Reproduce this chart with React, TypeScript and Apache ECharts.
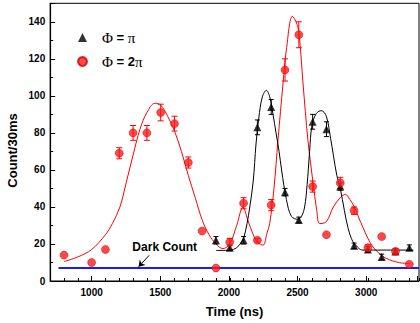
import { useEffect, useRef } from 'react';
import * as echarts from 'echarts';

// Φ = π (black triangles)
const timePi = [1900, 2000, 2100, 2200, 2300, 2400, 2500, 2600, 2700, 2800, 2900, 3000, 3100, 3200, 3300];
const countPi = [22, 18, 22, 83, 94, 48, 33, 86, 82, 51, 19, 17, 13, 16, 18];
const errPi = [2, 1.5, 2, 4, 4, 2, 1.5, 4, 4, 2, 1.5, 1.5, 1.5, 1.5, 1.5];

// Φ = 2π (red circles)
const time2Pi = [800, 1000, 1100, 1200, 1300, 1400, 1500, 1600, 1700, 1800, 1900, 2000, 2100, 2200, 2300, 2400, 2500, 2600, 2700, 2800, 2900, 3000, 3100, 3200, 3300];
const count2Pi = [14, 10, 17, 69, 80, 80, 91, 85, 64, 27, 7, 21, 42, 22, 41, 114, 133, 51, 25, 53, 38, 18, 24, 16, 9];
const err2Pi = [0, 0, 0, 3, 4, 4, 4.5, 4, 3, 0, 0, 2, 3, 1, 3, 6, 7, 3, 0, 3, 2, 1.5, 0, 1.5, 0];

// fitted curves
const fitPiX = [1900, 2000, 2050, 2080, 2100, 2125, 2145, 2170, 2190, 2210, 2236, 2265, 2289, 2313, 2335, 2357, 2375, 2410, 2446, 2494, 2520, 2542, 2560, 2578, 2595, 2627, 2663, 2699, 2730, 2750, 2775, 2800, 2830, 2855, 2880, 2904, 2964, 3330];
const fitPiY = [16.5, 16.6, 18, 20.5, 23, 31, 40, 54, 74, 88, 99.5, 103, 99.5, 90, 80, 70, 60, 44, 35, 33.3, 35, 40, 52, 70, 84, 90.5, 92, 89, 77, 68, 57, 50, 38, 29, 23, 20, 16.7, 16.7];

const fit2PiX = [800, 900, 1000, 1100, 1150, 1205, 1250, 1300, 1350, 1400, 1458, 1500, 1550, 1600, 1650, 1700, 1750, 1800, 1850, 1900, 1950, 2000, 2050, 2096, 2130, 2170, 2200, 2241, 2270, 2289, 2320, 2349, 2386, 2410, 2453, 2480, 2501, 2530, 2566, 2603, 2630, 2651, 2699, 2750, 2800, 2837, 2870, 2902, 2935, 2964, 3000, 3036, 3080, 3133, 3229, 3302];
const fit2PiY = [10.5, 13, 17, 25, 31, 40, 53, 68, 82, 91, 96, 95, 89, 81, 70, 57, 45, 33, 25, 20, 17.5, 20, 30, 40, 33, 25, 21, 19.4, 26, 31, 50, 76, 107, 125, 143, 140, 134, 107, 76, 53, 38, 31, 32, 40, 45, 46.8, 44, 40, 34, 29, 23, 18.5, 15, 12.2, 9.9, 9.5];

// dark count level
const darkX = [760, 3370];
const darkY = [7, 7];

const LEGEND_PI = 'Φ = π';
const LEGEND_2PI = 'Φ = 2π';

const errorBarSeries = (name: string, xs: number[], ys: number[], es: number[], color: string, half: number) => ({
  type: 'custom',
  name: name + ' err',
  xAxisIndex: 0,
  yAxisIndex: 0,
  z: 3,
  data: xs.map((x, i) => [x, ys[i], es[i]]),
  encode: { x: 0, y: 1 },
  renderItem: (_params: any, api: any) => {
    const x = api.value(0);
    const y = api.value(1);
    const e = api.value(2);
    if (!e) return { type: 'group', children: [] };
    const top = api.coord([x, y + e]);
    const bot = api.coord([x, y - e]);
    const style = { stroke: color, lineWidth: 1 };
    return {
      type: 'group',
      children: [
        { type: 'line', shape: { x1: top[0], y1: top[1], x2: bot[0], y2: bot[1] }, style },
        { type: 'line', shape: { x1: top[0] - half, y1: top[1], x2: top[0] + half, y2: top[1] }, style },
        { type: 'line', shape: { x1: bot[0] - half, y1: bot[1], x2: bot[0] + half, y2: bot[1] }, style },
      ],
    };
  },
});

export default function App() {
  const ref = useRef<HTMLDivElement>(null);
  useEffect(() => {
    if (!ref.current) return;
    const chart = echarts.init(ref.current, undefined, { renderer: 'svg' });
    const axisColor = '#000';
    const labelFont = { color: '#000', fontFamily: 'Liberation Sans, Arial, sans-serif', fontWeight: 'bold' as const, fontSize: 10 };
    chart.setOption({
      animation: false,
      backgroundColor: '#fff',
      grid: [
        { left: 50.2, right: 1, top: 3.3, bottom: 42, show: true, borderColor: '#000', borderWidth: 1, backgroundColor: 'transparent' },
        { left: 91.64, right: 1, top: 3.3, bottom: 42 },
      ],
      legend: {
        orient: 'vertical',
        left: 72,
        top: 25,
        itemWidth: 9,
        itemHeight: 9,
        itemGap: 9,
        data: [
          { name: LEGEND_PI, icon: 'triangle' },
          { name: LEGEND_2PI, icon: 'circle' },
        ],
        formatter: (name: string) => (name === LEGEND_PI ? '{g|Φ}{e| = }{g|π}' : '{g|Φ}{e| = 2}{g|π}'),
        textStyle: {
          padding: [0, 0, 0, 10],
          rich: {
            g: { fontFamily: 'Liberation Serif, Times New Roman, serif', fontSize: 15, color: '#000' },
            e: { fontFamily: 'Liberation Sans, Arial, sans-serif', fontSize: 13, fontWeight: 'bold', color: '#000' },
          },
        },
      },
      xAxis: [
        {
          type: 'value',
          gridIndex: 0,
          min: 700,
          max: 3370,
          interval: 100,
          axisLine: { show: true, onZero: false, lineStyle: { color: axisColor, width: 1.2 } },
          axisTick: { show: true, inside: true, length: 3, lineStyle: { color: axisColor } },
          axisLabel: { show: false },
          splitLine: { show: false },
          name: 'Time (ns)',
          nameLocation: 'middle',
          nameGap: 24,
          nameTextStyle: { color: '#000', fontFamily: 'Liberation Sans, Arial, sans-serif', fontWeight: 'bold', fontSize: 13 },
        },
        {
          type: 'value',
          gridIndex: 1,
          min: 1000,
          max: 3370,
          interval: 500,
          axisLine: { show: false },
          axisTick: { show: true, inside: true, length: 5, lineStyle: { color: axisColor } },
          axisLabel: { ...labelFont, margin: 6, formatter: (v: number) => (v % 500 === 0 ? String(v) : '') },
          splitLine: { show: false },
        },
      ],
      yAxis: [
        {
          type: 'value',
          gridIndex: 0,
          min: 0,
          max: 150,
          interval: 20,
          axisLine: { show: true, onZero: false, lineStyle: { color: axisColor, width: 1.2 } },
          axisTick: { show: true, inside: true, length: 5, lineStyle: { color: axisColor } },
          minorTick: { show: true, splitNumber: 2, length: 3, lineStyle: { color: axisColor } },
          axisLabel: { ...labelFont, margin: 5, formatter: (v: number) => (v % 20 === 0 ? String(v) : '') },
          splitLine: { show: false },
          minorSplitLine: { show: false },
        },
        { type: 'value', gridIndex: 1, min: 0, max: 150, show: false },
      ],
      graphic: [
        {
          type: 'text',
          x: 12,
          y: 150.5,
          rotation: Math.PI / 2,
          style: { text: 'Count/30ms', fill: '#000', font: 'bold 13px "Liberation Sans", Arial, sans-serif', align: 'center', verticalAlign: 'middle' },
        },
        {
          type: 'text',
          x: 164.7,
          y: 246.7,
          style: { text: 'Dark Count', fill: '#000', font: 'bold 12px "Liberation Sans", Arial, sans-serif', align: 'center', verticalAlign: 'middle' },
        },
      ],
      series: [
        {
          type: 'line',
          name: 'Dark Count',
          data: darkX.map((x, i) => [x, darkY[i]]),
          symbol: 'none',
          lineStyle: { color: '#1a1aff', width: 2 },
          z: 2,
          markLine: {
            silent: true,
            symbol: ['none', 'arrow'],
            symbolSize: 6,
            label: { show: false },
            lineStyle: { color: '#000', width: 1, type: 'solid' },
            data: [[{ coord: [1417, 13.9] }, { coord: [1340, 7.7] }]],
          },
        },
        {
          type: 'line',
          name: 'fit 2π',
          data: fit2PiX.map((x, i) => [x, fit2PiY[i]]),
          symbol: 'none',
          smooth: 0.35,
          lineStyle: { color: '#ff0000', width: 1 },
          z: 2,
        },
        {
          type: 'line',
          name: 'fit π',
          data: fitPiX.map((x, i) => [x, fitPiY[i]]),
          symbol: 'none',
          smooth: 0.35,
          lineStyle: { color: '#000', width: 1 },
          z: 2,
        },
        errorBarSeries('pi', timePi, countPi, errPi, '#000', 2.5),
        errorBarSeries('2pi', time2Pi, count2Pi, err2Pi, '#ff0000', 3),
        {
          type: 'scatter',
          name: LEGEND_PI,
          data: timePi.map((x, i) => [x, countPi[i]]),
          symbol: 'triangle',
          symbolSize: 8,
          itemStyle: { color: '#000' },
          z: 4,
        },
        {
          type: 'scatter',
          name: LEGEND_2PI,
          data: time2Pi.map((x, i) => [x, count2Pi[i]]),
          symbol: 'circle',
          symbolSize: 8,
          itemStyle: { color: '#ff1a1a', borderColor: '#d00000', borderWidth: 0.6 },
          z: 5,
        },
      ],
    });
    return () => chart.dispose();
  }, []);
  return <div ref={ref} style={{ width: 420, height: 323, position: 'absolute', left: 0, top: 0 }} />;
}
